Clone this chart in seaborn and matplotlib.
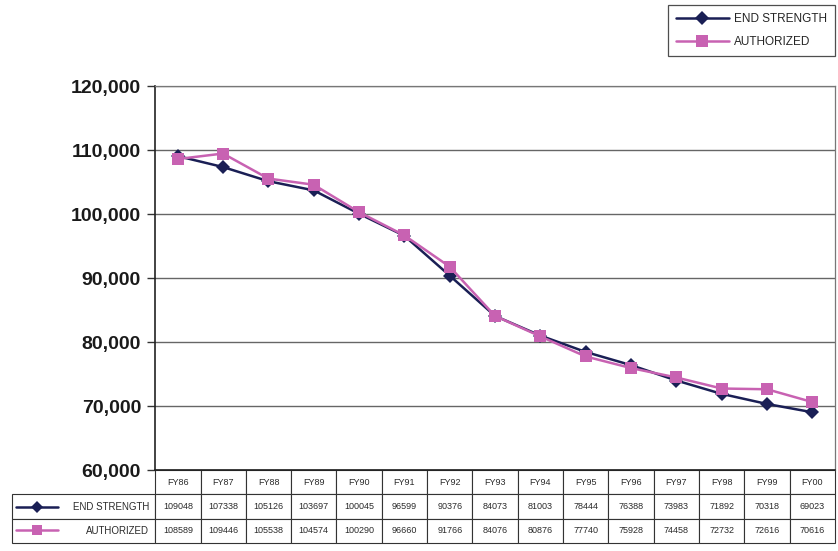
import pandas as pd
import matplotlib.pyplot as plt
import seaborn as sns

# Chart data
years = ['FY86', 'FY87', 'FY88', 'FY89', 'FY90', 'FY91', 'FY92', 'FY93',
         'FY94', 'FY95', 'FY96', 'FY97', 'FY98', 'FY99', 'FY00']
end_strength = [109048, 107338, 105126, 103697, 100045, 96599, 90376, 84073,
                81003, 78444, 76388, 73983, 71892, 70318, 69023]
authorized = [108589, 109446, 105538, 104574, 100290, 96660, 91766, 84076,
              80876, 77740, 75928, 74458, 72732, 72616, 70616]
series_names = ['END STRENGTH', 'AUTHORIZED']

navy = '#1a1f55'
pink = '#c862b2'

df = pd.DataFrame({
    'pos': list(range(len(years))) * 2,
    'value': end_strength + authorized,
    'series': [series_names[0]] * len(years) + [series_names[1]] * len(years),
})

sns.set_style('white')
plt.rcParams['font.family'] = ['Liberation Sans', 'DejaVu Sans']

fig = plt.figure(figsize=(8.38, 5.51), dpi=100)
ax = fig.add_axes([155 / 838, 81 / 551, 680 / 838, 384 / 551])

sns.lineplot(data=df, x='pos', y='value', hue='series', style='series',
             palette={series_names[0]: navy, series_names[1]: pink},
             markers={series_names[0]: 'D', series_names[1]: 's'},
             dashes=False, markersize=7, linewidth=1.8,
             markeredgewidth=0, ax=ax)
# bigger squares for the authorized series
for ln in ax.lines:
    if ln.get_marker() == 's':
        ln.set_markersize(9)

ax.set_xlim(-0.5, len(years) - 0.5)
ax.set_ylim(60000, 120000)
ax.set_yticks(range(60000, 120001, 10000))
ax.set_yticklabels([f'{v:,}' for v in range(60000, 120001, 10000)],
                   fontsize=14, fontweight='bold', color='#1a1a1a')
ax.set_xticks([])
ax.set_xlabel('')
ax.set_ylabel('')
ax.tick_params(axis='y', direction='out', length=6, width=1, color='#333333', pad=4, left=True)
ax.yaxis.grid(True, color='#666666', linewidth=1.0)
for side in ['top', 'right']:
    ax.spines[side].set_color('#777777')
    ax.spines[side].set_linewidth(0.9)
for side in ['left', 'bottom']:
    ax.spines[side].set_color('#222222')
    ax.spines[side].set_linewidth(1.2)

# Top-right legend
handles, labels = ax.get_legend_handles_labels()
ax.get_legend().remove()
leg = fig.legend(handles, labels, loc='upper right',
                 bbox_to_anchor=(835 / 838, 1 - 5 / 551), borderaxespad=0,
                 fancybox=False, edgecolor='#222222', fontsize=8.5,
                 handlelength=4.5, borderpad=0.7, labelspacing=0.9,
                 handletextpad=0.4)
leg.get_frame().set_linewidth(0.9)

# Data table below the plot (first column holds the series labels)
cell_text = [[series_names[0]] + [str(v) for v in end_strength],
             [series_names[1]] + [str(v) for v in authorized]]
tbl = ax.table(cellText=cell_text, colLabels=[''] + years,
               colWidths=[3.16] + [1] * len(years), cellLoc='center',
               bbox=[(12 - 155) / 680, -73 / 384, 823 / 680, 73 / 384])
tbl.auto_set_font_size(False)
for (r, c), cell in tbl.get_celld().items():
    cell.set_edgecolor('#333333')
    cell.set_linewidth(0.8)
    cell.get_text().set_fontsize(6.5)
    cell.get_text().set_color('#2a2a2a')
    if c == 0:
        cell.get_text().set_horizontalalignment('right')
        cell.PAD = 0.04
        cell.get_text().set_fontsize(7)
tbl[(0, 0)].visible_edges = 'open'

# Legend keys in the table row labels
for i, (col, mk, ms) in enumerate([(navy, 'D', 6), (pink, 's', 7.5)]):
    yy = -(37 + 23 * i) / 384
    ax.plot([(16 - 155) / 680, (58 - 155) / 680], [yy, yy], color=col,
            linewidth=1.8, transform=ax.transAxes, clip_on=False)
    ax.plot([(37 - 155) / 680], [yy], marker=mk, color=col, markersize=ms,
            markeredgewidth=0, transform=ax.transAxes, clip_on=False)

fig.savefig('out.png', dpi=100)
